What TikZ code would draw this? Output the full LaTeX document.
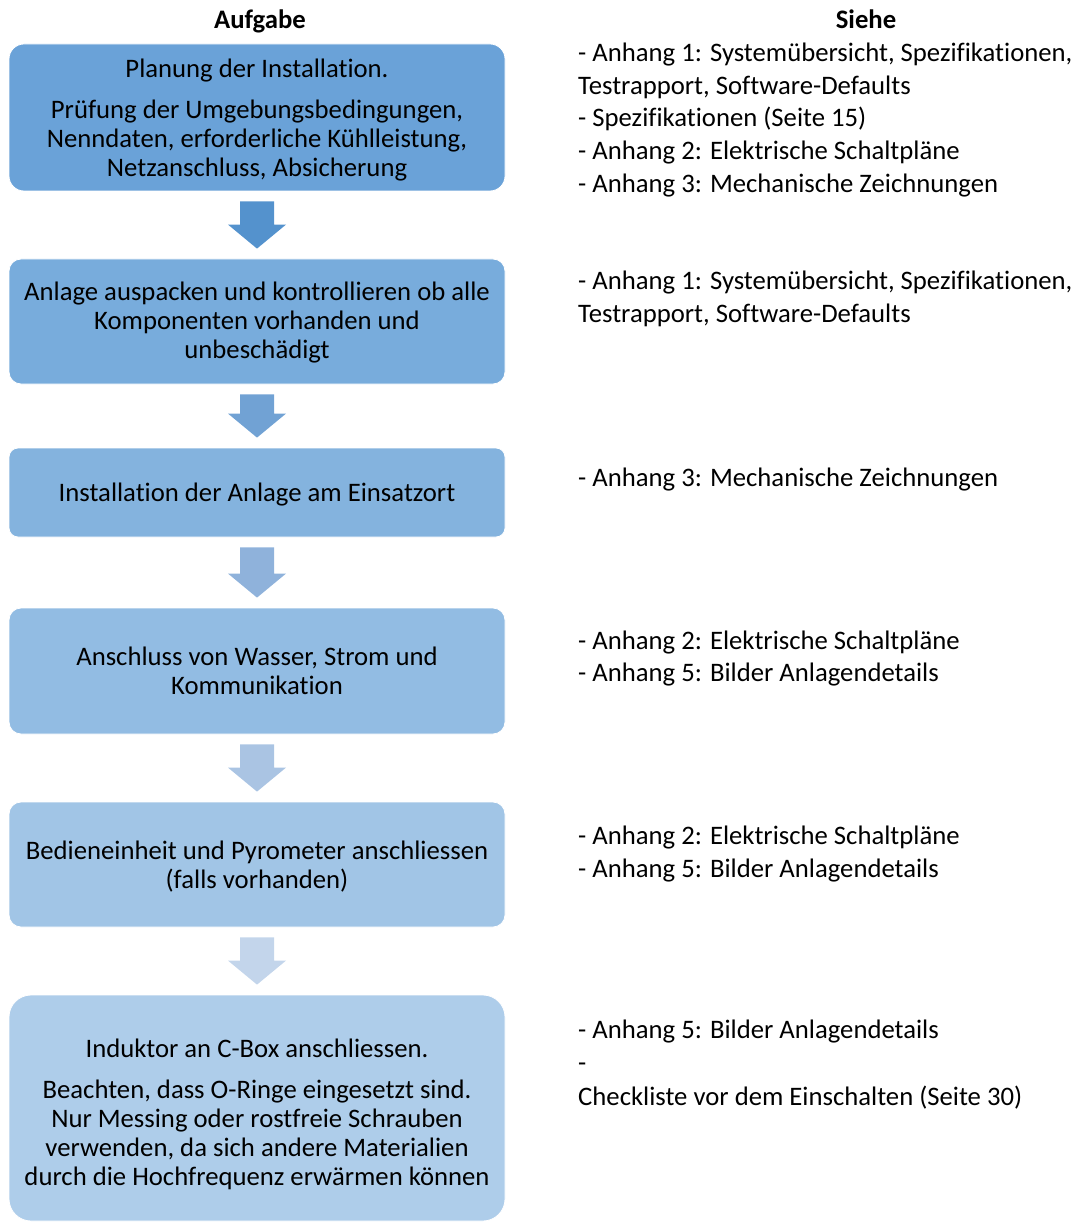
\documentclass[tikz,border=0pt]{standalone}
\usepackage{fontspec}
\setmainfont[Ligatures=NoCommon]{Carlito}
\usetikzlibrary{calc}
\definecolor{bA}{RGB}{106,162,216}
\definecolor{bB}{RGB}{120,172,220}
\definecolor{bC}{RGB}{132,179,222}
\definecolor{bD}{RGB}{146,188,227}
\definecolor{bE}{RGB}{161,197,230}
\definecolor{bF}{RGB}{174,205,234}
\definecolor{aA}{RGB}{84,146,205}
\definecolor{aB}{RGB}{113,162,212}
\definecolor{aC}{RGB}{143,178,219}
\definecolor{aD}{RGB}{170,196,227}
\definecolor{aE}{RGB}{195,213,235}
\newcommand\fs{\fontsize{26.7}{29}\selectfont}
\newcommand\blockarrow[3]{%
  \fill[#3] let \p1=($(#1.south)+(0,-10)$), \p2=($(#2.north)+(0,10)$) in
    (\x1-17pt,\y1) -- (\x1+17pt,\y1) -- (\x1+17pt,\y2+24pt) -- (\x1+29pt,\y2+24pt)
    -- (\x1,\y2) -- (\x1-29pt,\y2+24pt) -- (\x1-17pt,\y2+24pt) -- cycle;}
\tikzset{
  taskbox/.style={draw=white, line width=0.8pt, minimum width=496pt, inner sep=0pt},
  tasktext/.style={align=center, inner sep=0pt, font=\fs, text=black},
  ref/.style={anchor=base west, inner sep=0pt, font=\fs, text=black},
  head/.style={anchor=base, inner sep=0pt, font=\fs\bfseries, text=black}
}
\begin{document}
\begin{tikzpicture}[x=1pt,y=1pt]
\useasboundingbox (0,0) rectangle (1074,-1222);
\node[head] (h1) at (260,-29) {Aufgabe};
\node[head] (h2) at (866,-29) {Siehe};
\node[taskbox, fill=bA, minimum height=147pt, rounded corners=15pt] (b1) at (257,-117.5) {};
\node[tasktext] (t1) at ($(b1.center)+(0,-3)$)
  {Planung der Installation.\\[12pt]Prüfung der Umgebungsbedingungen,\\Nenndaten, erforderliche Kühlleistung,\\Netzanschluss, Absicherung};
\node[taskbox, fill=bB, minimum height=125pt, rounded corners=12pt] (b2) at (257,-321.5) {};
\node[tasktext] (t2) at ($(b2.center)+(0,-1.5)$)
  {Anlage auspacken und kontrollieren ob alle\\Komponenten vorhanden und\\unbeschädigt};
\node[taskbox, fill=bC, minimum height=89pt, rounded corners=9pt] (b3) at (257,-492.5) {};
\node[tasktext] (t3) at ($(b3.center)+(0,-2.5)$)
  {Installation der Anlage am Einsatzort};
\node[taskbox, fill=bD, minimum height=126pt, rounded corners=12pt] (b4) at (257,-671) {};
\node[tasktext] (t4) at ($(b4.center)+(0,0)$)
  {Anschluss von Wasser, Strom und\\Kommunikation};
\node[taskbox, fill=bE, minimum height=125pt, rounded corners=12pt] (b5) at (257,-864.5) {};
\node[tasktext] (t5) at ($(b5.center)+(0,-2.5)$)
  {Bedieneinheit und Pyrometer anschliessen\\(falls vorhanden)};
\node[taskbox, fill=bF, minimum height=226pt, rounded corners=22pt] (b6) at (257,-1108) {};
\node[tasktext] (t6) at ($(b6.center)+(0,-6.5)$)
  {Induktor an C-Box anschliessen.\\[12pt]Beachten, dass O-Ringe eingesetzt sind.\\Nur Messing oder rostfreie Schrauben\\verwenden, da sich andere Materialien\\durch die Hochfrequenz erwärmen können};
\blockarrow{b1}{b2}{aA}
\blockarrow{b2}{b3}{aB}
\blockarrow{b3}{b4}{aC}
\blockarrow{b4}{b5}{aD}
\blockarrow{b5}{b6}{aE}
\node[ref] (r1a) at (578,-62) {- Anhang 1: Systemübersicht, Spezifikationen,};
\node[ref] (r1b) at (578,-95) {Testrapport, Software-Defaults};
\node[ref] (r1c) at (578,-127) {- Spezifikationen (Seite 15)};
\node[ref] (r1d) at (578,-160) {- Anhang 2: Elektrische Schaltpläne};
\node[ref] (r1e) at (578,-193) {- Anhang 3: Mechanische Zeichnungen};
\node[ref] (r2a) at (578,-290) {- Anhang 1: Systemübersicht, Spezifikationen,};
\node[ref] (r2b) at (578,-323) {Testrapport, Software-Defaults};
\node[ref] (r3a) at (578,-486) {- Anhang 3: Mechanische Zeichnungen};
\node[ref] (r4a) at (578,-649) {- Anhang 2: Elektrische Schaltpläne};
\node[ref] (r4b) at (578,-681) {- Anhang 5: Bilder Anlagendetails};
\node[ref] (r5a) at (578,-844) {- Anhang 2: Elektrische Schaltpläne};
\node[ref] (r5b) at (578,-877) {- Anhang 5: Bilder Anlagendetails};
\node[ref] (r6a) at (578,-1038) {- Anhang 5: Bilder Anlagendetails};
\node[ref] (r6b) at (578,-1071) {-};
\node[ref] (r6c) at (578,-1105) {Checkliste vor dem Einschalten (Seite 30)};
\end{tikzpicture}
\end{document}
